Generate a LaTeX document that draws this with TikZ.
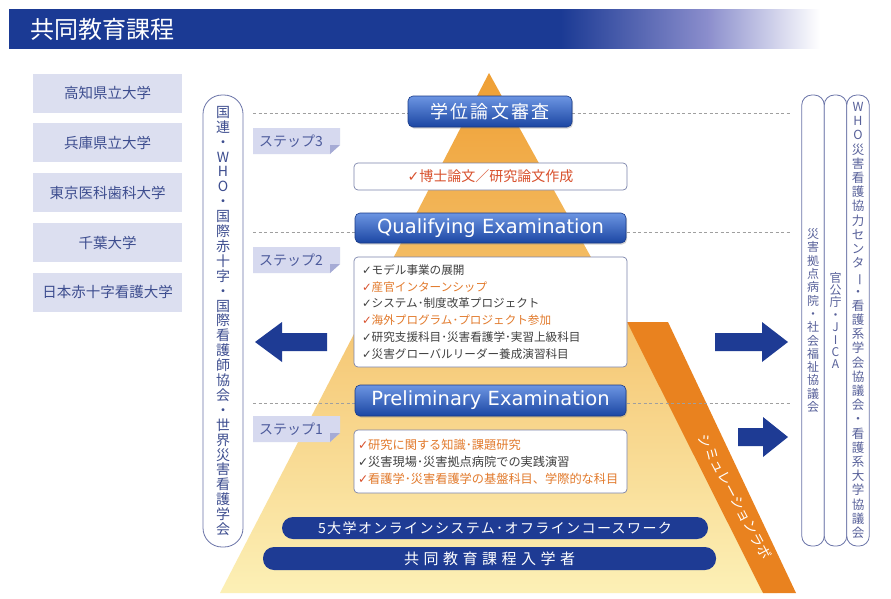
\documentclass[tikz,border=0pt]{standalone}
\usepackage{fontspec}
\setmainfont{Noto Sans CJK JP}
\newfontfamily\latinfont{DejaVu Sans}
\newfontfamily\symfont{DejaVu Sans}
\usetikzlibrary{shadows}

\definecolor{titleblue}{HTML}{1B3A94}
\definecolor{titlefadecol}{HTML}{8A8DCC}
\definecolor{unifill}{HTML}{DCDFF0}
\definecolor{unitext}{HTML}{3D4D8F}
\definecolor{pillline}{HTML}{6B74A8}
\definecolor{pilltext}{HTML}{58619A}
\definecolor{tabfill}{HTML}{D6D9EF}
\definecolor{tabfold}{HTML}{A6ABD5}
\definecolor{tabtext}{HTML}{4D5B9C}
\definecolor{btntop}{HTML}{6C95E2}
\definecolor{btnbot}{HTML}{1B46A3}
\definecolor{btnline}{HTML}{183A88}
\definecolor{boxline}{HTML}{7A83AA}
\definecolor{listgray}{HTML}{404040}
\definecolor{listorange}{HTML}{E27A2C}
\definecolor{checkred}{HTML}{D8502C}
\definecolor{bandorange}{HTML}{E9821F}
\definecolor{pyrtop}{HTML}{EF9F34}
\definecolor{pyrmid}{HTML}{F6C85C}
\definecolor{pyrbot}{HTML}{FCF0B6}
\definecolor{navy}{HTML}{1E3B94}

\pgfdeclarehorizontalshading{titlefade}{100bp}{color(0bp)=(titleblue); color(25bp)=(titleblue);
  color(59bp)=(titleblue); color(68bp)=(titlefadecol); color(75bp)=(white); color(100bp)=(white)}

\newcommand{\darkitem}[1]{{\color{listgray}{\symfont ✓}#1}}
\newcommand{\orangeitem}[1]{{\color{checkred}{\symfont ✓}}{\color{listorange}#1}}
\newcommand{\vbar}{\rotatebox[origin=c]{-90}{ー}}

\tikzset{
  unibox/.style={fill=unifill, minimum width=149pt, minimum height=39pt, inner sep=0pt,
    text=unitext, font=\fontsize{14.5}{16}\selectfont},
  pillbox/.style={draw=pillline, line width=0.8pt, fill=white, inner sep=0pt, align=center},
  examtitle/.style={draw=btnline, line width=0.6pt, rounded corners=5pt, top color=btntop,
    bottom color=btnbot, text=white, inner sep=0pt,
    drop shadow={shadow xshift=1pt, shadow yshift=-1.5pt, opacity=0.35}},
  taskbox/.style={draw=boxline, line width=0.7pt, fill=white, rounded corners=4pt, inner sep=0pt},
  basebar/.style={fill=navy, rounded corners=11pt, text=white, inner sep=0pt},
  steptext/.style={text=tabtext, inner sep=0pt, font=\fontsize{14}{14}\selectfont},
  stepline/.style={gray!75, line width=0.8pt, dash pattern=on 3pt off 2.5pt}
}

\begin{document}
\begin{tikzpicture}[x=1pt, y=-1pt]
    \fill[white] (0,0) rectangle (891,598);
    \useasboundingbox (0,0) rectangle (891,598);

    % title bar
    \shade[shading=titlefade] (9,9) rectangle (820,48);
    \node[anchor=west, text=white, inner sep=0pt, font=\fontsize{24}{24}\selectfont] (title) at (30,29) {共同教育課程};

    % universities
    \node[unibox] (kochi) at (107.5,93) {高知県立大学};
    \node[unibox] (hyogo) at (107.5,142.5) {兵庫県立大学};
    \node[unibox] (tmdu) at (107.5,192.5) {東京医科歯科大学};
    \node[unibox] (chiba) at (107.5,242.5) {千葉大学};
    \node[unibox] (jrc) at (107.5,292) {日本赤十字看護大学};

    % pyramid and simulation lab band
    \shade[top color=pyrtop, middle color=pyrmid, bottom color=pyrbot] (489,73) -- (777,593) -- (220,593) -- cycle;
    \fill[bandorange] (627,322) -- (668,322) -- (796,593) -- (763,593) -- cycle;
    \node[text=white, inner sep=0pt, rotate=-62, font=\fontsize{14}{14}\selectfont] (lab) at (735,497) {シミュレーションラボ};

    % step borders
    \draw[stepline] (253,113) -- (790,113);
    \draw[stepline] (253,232) -- (790,232);
    \draw[stepline] (253,403) -- (790,403);

    % step tabs
    \foreach \n/\y in {3/128, 2/247, 1/416} {
        \fill[tabfill] (253,\y) -- ++(87,0) -- ++(0,17) -- ++(-10,9) -- ++(-77,0) -- cycle;
        \fill[tabfold] (340,\y+17) -- ++(-10,0) -- ++(0,9) -- cycle;
        \node[steptext, anchor=west] (step\n) at (259,\y+13) {ステップ\n};
    }

    % left organisations
    \node[pillbox, rounded corners=19pt, minimum width=40pt, minimum height=452pt, text=unitext,
        font=\fontsize{14}{14.9}\selectfont] (intl) at (223,321)
        {国\\連\\・\\W\\H\\O\\・\\国\\際\\赤\\十\\字\\・\\国\\際\\看\\護\\師\\協\\会\\・\\世\\界\\災\\害\\看\\護\\学\\会};

    % right organisations
    \node[pillbox, rounded corners=10pt, minimum width=22.5pt, minimum height=451pt, text=pilltext,
        font=\fontsize{12}{13.3}\selectfont] (hosp) at (813,320.5)
        {災\\害\\拠\\点\\病\\院\\・\\社\\会\\福\\祉\\協\\議\\会};
    \node[pillbox, rounded corners=10pt, minimum width=22.5pt, minimum height=451pt, text=pilltext,
        font=\fontsize{12}{12.4}\selectfont] (jica) at (835.5,320.5)
        {官\\公\\庁\\・\\J\\I\\C\\A};
    \node[pillbox, rounded corners=10pt, minimum width=22.5pt, minimum height=451pt, text=pilltext,
        font=\fontsize{12.5}{14.2}\selectfont] (whocc) at (858,320.5)
        {W\\H\\O\\災\\害\\看\\護\\協\\力\\セ\\ン\\タ\\\vbar\\・\\看\\護\\系\\学\\会\\協\\議\\会\\・\\看\\護\\系\\大\\学\\協\\議\\会};

    % arrows
    \fill[navy] (255,342) -- (282,322) -- (282,333) -- (327,333) -- (327,351) -- (282,351) -- (282,362) -- cycle;
    \fill[navy] (788,342) -- (762,322) -- (762,333) -- (715,333) -- (715,351) -- (762,351) -- (762,362) -- cycle;
    \fill[navy] (788,437) -- (763,417) -- (763,428) -- (738,428) -- (738,446) -- (763,446) -- (763,457) -- cycle;

    % exams
    \node[examtitle, minimum width=164pt, minimum height=31pt,
        font=\fontsize{18}{18}\selectfont\addfontfeatures{LetterSpace=13}] (review) at (490,111.5) {学位論文審査};
    \node[examtitle, minimum width=271pt, minimum height=30pt,
        font=\latinfont\fontsize{19.5}{19.5}\selectfont] (qe) at (490.5,228) {Qualifying Examination};
    \node[examtitle, minimum width=271pt, minimum height=31pt,
        font=\latinfont\fontsize{19.5}{19.5}\selectfont] (pe) at (490.5,400.5) {Preliminary Examination};

    % step contents
    \node[taskbox, minimum width=273pt, minimum height=27pt, text=checkred,
        font=\fontsize{14}{14}\selectfont] (thesis) at (490.5,176.5) {{\symfont ✓}博士論文／研究論文作成};
    \node[taskbox, minimum width=273pt, minimum height=110pt, align=left, text width=257pt,
        font=\fontsize{11.6}{16.9}\selectfont] (step2list) at (490.5,312)
        {\darkitem{モデル事業の展開}\\
         \orangeitem{産官インターンシップ}\\
         \darkitem{システム･制度改革プロジェクト}\\
         \orangeitem{海外プログラム･プロジェクト参加}\\
         \darkitem{研究支援科目･災害看護学･実習上級科目}\\
         \darkitem{災害グローバルリーダー養成演習科目}};
    \node[taskbox, minimum width=273pt, minimum height=63pt, align=left, text width=265pt,
        font=\fontsize{12.2}{17}\selectfont] (step1list) at (490.5,461.5)
        {\orangeitem{研究に関する知識･課題研究}\\
         \darkitem{災害現場･災害拠点病院での実践演習}\\
         \orangeitem{看護学･災害看護学の基盤科目、学際的な科目}};

    % base bars
    \node[basebar, minimum width=426pt, minimum height=22pt,
        font=\fontsize{14}{14}\selectfont\addfontfeatures{LetterSpace=10}] (online) at (495,528)
        {5大学オンラインシステム･オフラインコースワーク};
    \node[basebar, minimum width=453pt, minimum height=23pt,
        font=\fontsize{15}{15}\selectfont\addfontfeatures{LetterSpace=30}] (entrants) at (489.5,558.5)
        {共同教育課程入学者};
\end{tikzpicture}
\end{document}
